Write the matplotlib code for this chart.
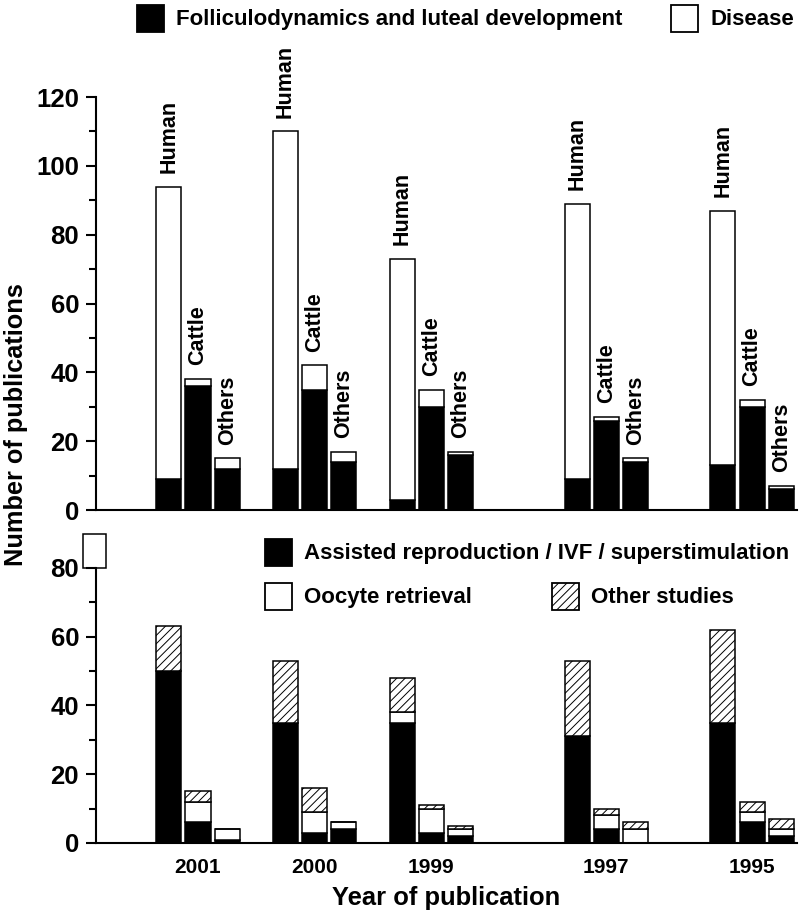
import matplotlib
matplotlib.use('Agg')
import matplotlib.pyplot as plt
from matplotlib.patches import Rectangle
from matplotlib.ticker import MultipleLocator
import numpy as np

plt.rcParams['font.family'] = ['Liberation Sans', 'DejaVu Sans']
plt.rcParams['font.weight'] = 'bold'
plt.rcParams['axes.labelweight'] = 'bold'
plt.rcParams['hatch.linewidth'] = 0.7

# data
years = ['2001', '2000', '1999', '1997', '1995']
species = ['Human', 'Cattle', 'Others']

# top panel: folliculodynamics (black) / disease (white)
folli_human = [9, 12, 3, 9, 13]
folli_cattle = [36, 35, 30, 26, 30]
folli_others = [12, 14, 16, 14, 6]
disease_human = [85, 98, 70, 80, 74]
disease_cattle = [2, 7, 5, 1, 2]
disease_others = [3, 3, 1, 1, 1]

# bottom panel: assisted reproduction (black) / oocyte retrieval (white) / other (hatched)
art_human = [50, 35, 35, 31, 35]
art_cattle = [6, 3, 3, 4, 6]
art_others = [1, 4, 2, 0, 2]
oocyte_human = [0, 0, 3, 0, 0]
oocyte_cattle = [6, 6, 7, 4, 3]
oocyte_others = [3, 2, 2, 4, 2]
other_human = [13, 18, 10, 22, 27]
other_cattle = [3, 7, 1, 2, 3]
other_others = [0, 0, 1, 2, 3]

folli = [folli_human, folli_cattle, folli_others]
disease = [disease_human, disease_cattle, disease_others]
art = [art_human, art_cattle, art_others]
oocyte = [oocyte_human, oocyte_cattle, oocyte_others]
other = [other_human, other_cattle, other_others]

# layout (1998 and 1996 are missing, hence the uneven gaps)
group_pos = np.array([0, 1, 2, 3.5, 4.75])
offsets = [-0.25, 0, 0.25]
bw = 0.215

W, H = 800, 918
fig = plt.figure(figsize=(W / 100, H / 100), dpi=100)
ax1 = fig.add_axes([0.12, 0.4444, 0.876, 0.4499])
ax2 = fig.add_axes([0.12, 0.0817, 0.876, 0.2996])

edge = dict(edgecolor='black', linewidth=1.1)

for i, sp in enumerate(species):
    xs = group_pos + offsets[i]
    ax1.bar(xs, folli[i], bw, color='black', **edge)
    ax1.bar(xs, disease[i], bw, bottom=folli[i], color='white', **edge)
    tot = np.add(folli[i], disease[i])
    for xi, t in zip(xs, tot):
        ax1.annotate(sp, (xi, t), xytext=(0, 10), textcoords='offset points',
                     rotation=90, ha='center', va='bottom', fontsize=15.5,
                     annotation_clip=False)

    b1 = np.array(art[i])
    b2 = b1 + np.array(oocyte[i])
    ax2.bar(xs, art[i], bw, color='black', **edge)
    ax2.bar(xs, oocyte[i], bw, bottom=b1, color='white', **edge)
    ax2.bar(xs, other[i], bw, bottom=b2, color='white', hatch='////', **edge)

for ax, top in [(ax1, 120), (ax2, 80)]:
    ax.set_xlim(-0.874, 5.133)
    ax.set_ylim(0, top)
    ax.spines['top'].set_visible(False)
    ax.spines['right'].set_visible(False)
    ax.spines['left'].set_linewidth(1.5)
    ax.spines['bottom'].set_linewidth(1.5)
    ax.yaxis.set_major_locator(MultipleLocator(20))
    ax.yaxis.set_minor_locator(MultipleLocator(10))
    ax.tick_params(axis='y', which='major', length=7.2, width=1.5,
                   labelsize=18.5, pad=5)
    ax.tick_params(axis='y', which='minor', length=5, width=1.5)

ax1.set_xticks([])
ax2.set_xticks(group_pos)
ax2.set_xticklabels(years)
ax2.tick_params(axis='x', length=0, labelsize=15, pad=11)
ax2.set_xlabel('Year of publication', fontsize=18.4, labelpad=6)

fig.text(16 / W, 1 - 425 / H, 'Number of publications', rotation=90,
         ha='center', va='center', fontsize=18.3)

# small open box above the lower axis
ax2.add_patch(Rectangle((-0.0185, 1.0), 0.0328, 0.124, transform=ax2.transAxes,
                        facecolor='white', edgecolor='black', linewidth=1.1,
                        clip_on=False))


def key(x, y, label, **style):
    # legend square 27 px wide, top-left corner at (x, y) in pixels
    fig.add_artist(Rectangle((x / W, 1 - (y + 27) / H), 27 / W, 27 / H,
                             transform=fig.transFigure, edgecolor='black',
                             linewidth=1.3, **style))
    fig.text((x + 39) / W, 1 - (y + 20) / H, label, fontsize=16,
             ha='left', va='baseline')


key(137, 5, 'Folliculodynamics and luteal development', facecolor='black')
key(671, 5, 'Disease', facecolor='white')
key(265, 539, 'Assisted reproduction / IVF / superstimulation', facecolor='black')
key(265, 583, 'Oocyte retrieval', facecolor='white')
key(552, 583, 'Other studies', facecolor='white', hatch='////')

fig.savefig('out.png', dpi=100)
